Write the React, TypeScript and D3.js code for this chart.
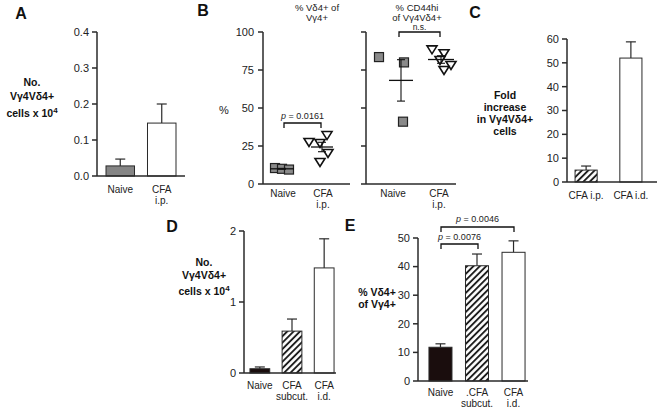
import React from "react";
import * as d3 from "d3";

const FONT = "Liberation Sans, Arial, Helvetica, sans-serif";

// Panel A
const catsA = ["Naive", "CFA\ni.p."];
const valsA = [0.028, 0.147];
const errsA = [0.019, 0.053];
const ticksA = [0, 0.1, 0.2, 0.3, 0.4];

// Panel B (scatter)
const b1Naive = [10.5, 10, 9.5];
const b1Cfa = [27.6, 32.2, 27, 20.4, 14.5];
const b2Naive = [83.5, 80, 41];
const b2Cfa = [88.6, 86, 81.6, 78.3, 75];
const catsB = ["Naive", "CFA\ni.p."];
const ticksB = [0, 25, 50, 75, 100];

// Panel C
const catsC = ["CFA i.p.", "CFA i.d."];
const valsC = [5, 52];
const errsC = [1.7, 6.8];
const ticksC = [0, 10, 20, 30, 40, 50, 60];

// Panel D
const catsD = ["Naive", "CFA\nsubcut.", "CFA\ni.d."];
const valsD = [0.06, 0.59, 1.48];
const errsD = [0.025, 0.17, 0.41];
const ticksD = [0, 1, 2];

// Panel E
const catsE = ["Naive", ".CFA\nsubcut.", "CFA\ni.d."];
const valsE = [11.8, 40.3, 45];
const errsE = [1.2, 4.1, 4];
const ticksE = [0, 10, 20, 30, 40, 50];

const AX = "#2a2a2a";

type BarProps = {
  cats: string[];
  vals: number[];
  errs: number[];
  fills: string[];
  yDomain: [number, number];
  yRange: [number, number];
  xRange: [number, number];
  axisEnd: number;
  pi: number;
  po: number;
  ticks: number[];
  fmt: (v: number) => string;
  labelY: number;
  lineGap: number;
};

function BarPanel(p: BarProps) {
  const y = d3.scaleLinear().domain(p.yDomain).range(p.yRange);
  const x = d3
    .scaleBand<string>()
    .domain(p.cats)
    .range(p.xRange)
    .paddingInner(p.pi)
    .paddingOuter(p.po);
  const ax = p.xRange[0];
  const y0 = y(0);
  const bw = x.bandwidth();
  return (
    <g>
      {p.cats.map((c, i) => {
        const bx = x(c)!;
        const top = y(p.vals[i]);
        const etop = y(p.vals[i] + p.errs[i]);
        const cx = bx + bw / 2;
        return (
          <g key={c}>
            <line x1={cx} x2={cx} y1={top} y2={etop} stroke={AX} strokeWidth={1.2} />
            <line x1={cx - 5} x2={cx + 5} y1={etop} y2={etop} stroke={AX} strokeWidth={1.2} />
            <rect x={bx} y={top} width={bw} height={y0 - top} fill={p.fills[i]} stroke={AX} strokeWidth={1} />
            {c.split("\n").map((t, k) => (
              <text
                key={k}
                x={cx}
                y={p.labelY + k * p.lineGap}
                textAnchor="middle"
                fontSize={10}
                fill="#222"
              >
                {t}
              </text>
            ))}
          </g>
        );
      })}
      <line x1={ax} x2={ax} y1={y(p.yDomain[1])} y2={y0} stroke={AX} strokeWidth={1.5} />
      <line x1={ax} x2={p.axisEnd} y1={y0} y2={y0} stroke={AX} strokeWidth={1.5} />
      {p.ticks.map((t) => (
        <g key={t}>
          <line x1={ax - 5} x2={ax} y1={y(t)} y2={y(t)} stroke={AX} strokeWidth={1.5} />
          <text x={ax - 8} y={y(t)} dy="0.35em" textAnchor="end" fontSize={11} fill="#222">
            {p.fmt(t)}
          </text>
        </g>
      ))}
    </g>
  );
}

function mean(a: number[]) {
  return d3.mean(a)!;
}
function se(a: number[]) {
  return d3.deviation(a)! / Math.sqrt(a.length);
}

type ScatterProps = {
  groups: { vals: number[]; center: number; offs: number[]; shape: "sq" | "tri"; lineHalf: number }[];
  ax: number;
  axisEnd: number;
  showLabels: boolean;
  labelXs: number[];
};

const yB = d3.scaleLinear().domain([0, 100]).range([184, 32]);

function ScatterPanel(p: ScatterProps) {
  const y0 = yB(0);
  return (
    <g>
      <line x1={p.ax} x2={p.ax} y1={yB(100)} y2={y0} stroke={AX} strokeWidth={1.5} />
      <line x1={p.ax} x2={p.axisEnd} y1={y0} y2={y0} stroke={AX} strokeWidth={1.5} />
      {ticksB.map((t) => (
        <g key={t}>
          <line x1={p.ax - 5} x2={p.ax} y1={yB(t)} y2={yB(t)} stroke={AX} strokeWidth={1.5} />
          {p.showLabels && (
            <text x={p.ax - 9} y={yB(t)} dy="0.35em" textAnchor="end" fontSize={11} fill="#222">
              {t}
            </text>
          )}
        </g>
      ))}
      {p.groups.map((g, gi) => {
        const m = mean(g.vals);
        const s = se(g.vals);
        return (
          <g key={gi}>
            {g.vals.map((v, i) => {
              const cx = g.center + g.offs[i];
              const cy = yB(v);
              if (g.shape === "sq") {
                return (
                  <rect key={i} x={cx - 4.5} y={cy - 4.5} width={9} height={9} fill="#8a8a8a" stroke="#222" strokeWidth={1.2} />
                );
              }
              const path = `M${cx - 5},${cy - 3.5}L${cx + 5},${cy - 3.5}L${cx},${cy + 4.5}Z`;
              return <path key={i} d={path} fill="white" stroke="#111" strokeWidth={1.6} />;
            })}
            <line x1={g.center - g.lineHalf} x2={g.center + g.lineHalf} y1={yB(m)} y2={yB(m)} stroke="#111" strokeWidth={1.3} />
            <line x1={g.center} x2={g.center} y1={yB(m + s)} y2={yB(m - s)} stroke="#111" strokeWidth={1.1} />
            <line x1={g.center - 4} x2={g.center + 4} y1={yB(m + s)} y2={yB(m + s)} stroke="#111" strokeWidth={1.1} />
            <line x1={g.center - 4} x2={g.center + 4} y1={yB(m - s)} y2={yB(m - s)} stroke="#111" strokeWidth={1.1} />
          </g>
        );
      })}
      {catsB.map((c, i) =>
        c.split("\n").map((t, k) => (
          <text key={c + k} x={p.labelXs[i]} y={197 + k * 11} textAnchor="middle" fontSize={10} fill="#222">
            {t}
          </text>
        ))
      )}
    </g>
  );
}

function YLabel({ x, lines, y0, gap }: { x: number; lines: string[]; y0: number; gap: number[] }) {
  let yy = y0;
  return (
    <g>
      {lines.map((l, i) => {
        if (i > 0) yy += gap[i - 1];
        const sup = l.endsWith("^4");
        return (
          <text key={i} x={x} y={yy} textAnchor="middle" fontSize={10.5} fontWeight="bold" fill="#111">
            {sup ? l.slice(0, -2) : l}
            {sup && (
              <tspan fontSize={8} dy={-4}>
                4
              </tspan>
            )}
          </text>
        );
      })}
    </g>
  );
}

function Letter({ x, y, t }: { x: number; y: number; t: string }) {
  return (
    <text x={x} y={y} fontSize={16} fontWeight="bold" textAnchor="middle" fill="#111">
      {t}
    </text>
  );
}

function Bracket({ x1, x2, y, t, ty, italicP, fs }: { x1: number; x2: number; y: number; t: string; ty: number; italicP: boolean; fs: number }) {
  return (
    <g>
      <path d={`M${x1},${y + 5}V${y}H${x2}V${y + 5}`} fill="none" stroke="#111" strokeWidth={1.3} />
      <text x={(x1 + x2) / 2} y={ty} textAnchor="middle" fontSize={fs} fill="#222">
        {italicP ? (
          <>
            <tspan fontStyle="italic">p</tspan>
            {t}
          </>
        ) : (
          t
        )}
      </text>
    </g>
  );
}

export default function App() {
  return (
    <svg
      width={657}
      height={410}
      style={{ position: "absolute", left: 0, top: 0, background: "white", fontFamily: FONT }}
    >
      <defs>
        <pattern id="hatch" patternUnits="userSpaceOnUse" width={4.5} height={4.5} patternTransform="rotate(45)">
          <rect width={4.5} height={4.5} fill="white" />
          <line x1={1} x2={1} y1={0} y2={4.5} stroke="#111" strokeWidth={1.8} />
        </pattern>
      </defs>

      {/* Panel A */}
      <Letter x={21} y={19} t="A" />
      <YLabel x={32} lines={["No.", "Vγ4Vδ4+", "cells x 10^4"]} y0={86} gap={[14, 17]} />
      <BarPanel
        cats={catsA}
        vals={valsA}
        errs={errsA}
        fills={["#858585", "white"]}
        yDomain={[0, 0.4]}
        yRange={[176, 32]}
        xRange={[97, 185]}
        axisEnd={185}
        pi={0.313}
        po={0.217}
        ticks={ticksA}
        fmt={d3.format(".1f")}
        labelY={193}
        lineGap={11}
      />

      {/* Panel B */}
      <Letter x={203} y={16} t="B" />
      <text x={224} y={114} fontSize={11} textAnchor="middle" fill="#222">%</text>
      <text x={317} y={11} fontSize={9.5} textAnchor="middle" fill="#222">% Vδ4+ of</text>
      <text x={317} y={21} fontSize={9.5} textAnchor="middle" fill="#222">Vγ4+</text>
      <text x={417} y={11} fontSize={9.5} textAnchor="middle" fill="#222">% CD44hi</text>
      <text x={417} y={21} fontSize={9.5} textAnchor="middle" fill="#222">of Vγ4Vδ4+</text>
      <ScatterPanel
        ax={263}
        axisEnd={350}
        showLabels={true}
        labelXs={[283, 323]}
        groups={[
          { vals: b1Naive, center: 282, offs: [-7, 0, 7], shape: "sq", lineHalf: 12 },
          { vals: b1Cfa, center: 322, offs: [-13, 5, -2, 6, -2], shape: "tri", lineHalf: 11 },
        ]}
      />
      <Bracket x1={284} x2={321} y={123} t=" = 0.0161" ty={119} italicP={true} fs={9} />
      <ScatterPanel
        ax={366}
        axisEnd={456}
        showLabels={false}
        labelXs={[393, 439]}
        groups={[
          { vals: b2Naive, center: 401, offs: [-22, 3, 2], shape: "sq", lineHalf: 12 },
          { vals: b2Cfa, center: 441, offs: [-9, 3, -1, 10, 3], shape: "tri", lineHalf: 13 },
        ]}
      />
      <Bracket x1={399} x2={440} y={32} t="n.s." ty={30} italicP={false} fs={8.5} />

      {/* Panel C */}
      <Letter x={475} y={18} t="C" />
      <YLabel x={505} lines={["Fold", "increase", "in Vγ4Vδ4+", "cells"]} y0={99} gap={[12, 12, 12]} />
      <BarPanel
        cats={catsC}
        vals={valsC}
        errs={errsC}
        fills={["url(#hatch)", "white"]}
        yDomain={[0, 60]}
        yRange={[182, 39]}
        xRange={[567, 650]}
        axisEnd={657}
        pi={0.506}
        po={0.18}
        ticks={ticksC}
        fmt={d3.format("d")}
        labelY={199}
        lineGap={11}
      />

      {/* Panel D */}
      <Letter x={172} y={232} t="D" />
      <YLabel x={204} lines={["No.", "Vγ4Vδ4+", "cells x 10^4"]} y0={266} gap={[13, 16]} />
      <BarPanel
        cats={catsD}
        vals={valsD}
        errs={errsD}
        fills={["#1a0d0d", "url(#hatch)", "white"]}
        yDomain={[0, 2]}
        yRange={[373, 231]}
        xRange={[244, 340]}
        axisEnd={336}
        pi={0.385}
        po={0.185}
        ticks={ticksD}
        fmt={d3.format("d")}
        labelY={389}
        lineGap={11}
      />

      {/* Panel E */}
      <Letter x={350} y={231} t="E" />
      <YLabel x={377} lines={["% Vδ4+", "of Vγ4+"]} y0={296} gap={[12]} />
      <BarPanel
        cats={catsE}
        vals={valsE}
        errs={errsE}
        fills={["#1a0d0d", "url(#hatch)", "white"]}
        yDomain={[0, 50]}
        yRange={[381, 238]}
        xRange={[418, 536]}
        axisEnd={528}
        pi={0.37}
        po={0.3}
        ticks={ticksE}
        fmt={d3.format("d")}
        labelY={396}
        lineGap={11}
      />
      <Bracket x1={441} x2={478} y={244} t=" = 0.0076" ty={240} italicP={true} fs={9} />
      <Bracket x1={441} x2={514} y={227} t=" = 0.0046" ty={222} italicP={true} fs={9} />
    </svg>
  );
}
